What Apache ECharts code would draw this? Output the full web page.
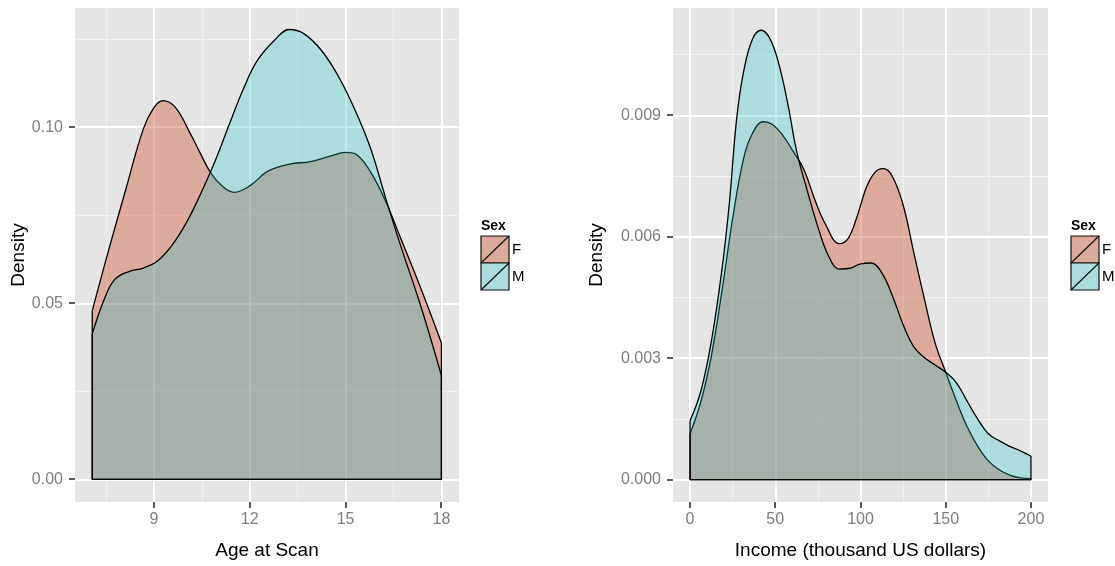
<!DOCTYPE html>
<html>
<head>
<meta charset="utf-8">
<title>Density by Sex</title>
<script src="https://cdn.jsdelivr.net/npm/echarts@6/dist/echarts.min.js"></script>
<style>
  html, body { margin: 0; padding: 0; background: #fff; }
  #chart { width: 1115px; height: 566px; }
</style>
</head>
<body>
<div id="chart"></div>
<script>
// age at scan, density by sex
const ageFx = [7.07, 7.55, 8.11, 8.67, 9.00, 9.28, 9.67, 10.12, 10.45, 10.78, 11.12, 11.51, 12.01, 12.57, 13.24, 13.90, 14.46, 15.02, 15.36, 15.80, 16.25, 16.70, 17.36, 18.00]
const ageFy = [0.0479, 0.0640, 0.0820, 0.0995, 0.1055, 0.1075, 0.1056, 0.0985, 0.0926, 0.0870, 0.0834, 0.0815, 0.0834, 0.0875, 0.0895, 0.0902, 0.0916, 0.0928, 0.0921, 0.0870, 0.0790, 0.0690, 0.0541, 0.0387]
const ageMx = [7.07, 7.44, 7.77, 8.22, 8.67, 9.11, 9.56, 10.00, 10.45, 10.90, 11.34, 11.79, 12.23, 12.79, 13.24, 13.68, 14.24, 14.80, 15.36, 15.80, 16.25, 16.70, 17.36, 18.00]
const ageMy = [0.0413, 0.0510, 0.0567, 0.0590, 0.0600, 0.0620, 0.0664, 0.0726, 0.0808, 0.0900, 0.1003, 0.1106, 0.1188, 0.1248, 0.1277, 0.1266, 0.1218, 0.1140, 0.1035, 0.0935, 0.0800, 0.0670, 0.0490, 0.0295]

// income (thousand US dollars), density by sex
const incFx = [0, 6.45, 12.7, 18.9, 25.2, 31.4, 36.6, 42.9, 48.1, 54.3, 60.6, 66.8, 73.0, 79.3, 87.6, 92.8, 98.0, 104.3, 110.5, 113.6, 118.8, 125.1, 131.3, 137.6, 143.8, 150.0, 156.3, 162.5, 168.8, 175.0, 181.3, 187.5, 193.8, 200.0]
const incFy = [0.00113, 0.00194, 0.0031, 0.00471, 0.0065, 0.00793, 0.00855, 0.00884, 0.00878, 0.00851, 0.0081, 0.00766, 0.00694, 0.00632, 0.00583, 0.00596, 0.0065, 0.0073, 0.00766, 0.00768, 0.00748, 0.00677, 0.0056, 0.00444, 0.00337, 0.00265, 0.00194, 0.00131, 0.00082, 0.00046, 0.00024, 0.00011, 0.00004, 0.00002]
const incMx = [0, 6.45, 12.7, 18.9, 23.1, 27.3, 31.4, 36.6, 41.8, 47.0, 52.2, 57.4, 62.6, 68.9, 75.1, 81.4, 87.6, 93.9, 100.1, 106.3, 112.6, 118.8, 125.1, 131.3, 137.6, 143.8, 150.0, 156.3, 162.5, 168.8, 175.0, 181.3, 187.5, 193.8, 200.0]
const incMy = [0.00145, 0.0022, 0.00346, 0.00525, 0.00685, 0.0089, 0.01007, 0.01088, 0.0111, 0.01088, 0.01025, 0.00927, 0.0081, 0.00712, 0.00623, 0.00551, 0.0052, 0.00522, 0.00533, 0.00535, 0.00510, 0.00453, 0.00382, 0.00328, 0.00301, 0.00283, 0.00265, 0.00239, 0.00194, 0.00149, 0.00113, 0.00096, 0.00082, 0.00071, 0.00058]

// ticks and grid lines
const ageTicks = [9, 12, 15, 18]
const ageMinor = [7.5, 10.5, 13.5, 16.5]
const ageDensTicks = [0, 0.05, 0.10]
const ageDensMinor = [0.025, 0.075, 0.125]
const incTicks = [0, 50, 100, 150, 200]
const incMinor = [25, 75, 125, 175]
const incDensTicks = [0, 0.003, 0.006, 0.009]
const incDensMinor = [0.0015, 0.0045, 0.0075, 0.0105]

// axis ranges [xmin, xmax, ymin, ymax] per panel
const ageRange = [6.53, 18.55, -0.0064, 0.1338]
const incRange = [-10, 210, -0.000555, 0.01165]

// panel boxes
const grids = [
  { left: 75, top: 8, width: 384, height: 494 },
  { left: 673, top: 8, width: 375, height: 494 },
]

const sexes = ['F', 'M']
const fills = ['rgba(209,84,52,0.4)', 'rgba(20,195,198,0.27)']

const FONT = '"Liberation Sans", Arial, Helvetica, sans-serif'
const TICK_GREY = '#5A5A5A'
const TICK_LEN = 6

const zip = (xs, ys) => xs.map((x, i) => [x, ys[i]])

function xAxisFor(i, range, ticks, name) {
  return {
    gridIndex: i, type: 'value', min: range[0], max: range[1],
    name, nameLocation: 'middle', nameGap: 39,
    nameTextStyle: { color: '#000', fontSize: 19, fontFamily: FONT },
    axisLine: { show: false, onZero: false },
    axisTick: { show: false },
    axisLabel: { customValues: ticks, margin: 10, color: '#7F7F7F', fontSize: 16, fontFamily: FONT },
    splitLine: { show: false },
  }
}

function yAxisFor(i, range, ticks, digits, gap) {
  return {
    gridIndex: i, type: 'value', min: range[2], max: range[3],
    name: 'Density', nameLocation: 'middle', nameGap: gap,
    nameTextStyle: { color: '#000', fontSize: 19, fontFamily: FONT },
    axisLine: { show: false, onZero: false },
    axisTick: { show: false },
    axisLabel: {
      customValues: ticks, margin: 12, color: '#7F7F7F', fontSize: 16, fontFamily: FONT,
      formatter: v => Number(v).toFixed(digits),
    },
    splitLine: { show: false },
  }
}

// background grid lines drawn as mark lines, under the areas
function gridLines(i, xTicks, xMinor, yTicks, yMinor) {
  const minor = { color: '#F3F3F3', width: 0.9, type: 'solid' }
  const major = { color: '#FFFFFF', width: 1.8, type: 'solid' }
  return {
    type: 'line', xAxisIndex: i, yAxisIndex: i, data: [], silent: true, z: 1,
    markLine: {
      z: 1, precision: 6,
      silent: true, symbol: 'none', animation: false, label: { show: false },
      emphasis: { disabled: true },
      data: [
        ...xMinor.map(v => ({ xAxis: v, lineStyle: minor })),
        ...yMinor.map(v => ({ yAxis: v, lineStyle: minor })),
        ...xTicks.map(v => ({ xAxis: v, lineStyle: major })),
        ...yTicks.map(v => ({ yAxis: v, lineStyle: major })),
      ],
    },
  }
}

function densityArea(i, xs, ys, k) {
  return {
    type: 'line', name: sexes[k], xAxisIndex: i, yAxisIndex: i,
    data: zip(xs, ys), smooth: 0.4, symbol: 'none',
    lineStyle: { color: '#000', width: 1.3 },
    areaStyle: { color: fills[k], opacity: 1 },
    z: 2 + k,
  }
}

// end edges and baseline of the filled density
function densityEdges(i, xs, ys) {
  const n = xs.length - 1
  return {
    type: 'line', xAxisIndex: i, yAxisIndex: i, symbol: 'none', silent: true,
    data: [[xs[0], ys[0]], [xs[0], 0], [xs[n], 0], [xs[n], ys[n]]],
    lineStyle: { color: '#000', width: 1.3 }, z: 5,
  }
}

function legendAt(x) {
  const w = 28, h = 27
  const children = [{
    type: 'text', x: 0, y: -17,
    style: { text: 'Sex', font: 'bold 14px ' + FONT, fill: '#000', verticalAlign: 'top' },
  }]
  sexes.forEach((s, k) => {
    children.push(
      { type: 'rect', shape: { x: 0, y: k * h, width: w, height: h }, style: { fill: '#E5E5E5' } },
      { type: 'rect', shape: { x: 0, y: k * h, width: w, height: h }, style: { fill: fills[k], stroke: '#111', lineWidth: 1.2 } },
      { type: 'line', shape: { x1: 0, y1: (k + 1) * h, x2: w, y2: k * h }, style: { stroke: '#111', lineWidth: 1.2 } },
      { type: 'text', x: w + 3, y: k * h + h / 2, style: { text: s, font: '15px ' + FONT, fill: '#000', verticalAlign: 'middle' } },
    )
  })
  return { type: 'group', x, y: 236, children }
}

// outside tick marks along the panel edges (axis decoration only)
function tickMarks(i, range, xTicks, yTicks) {
  const g = grids[i]
  const bottom = g.top + g.height
  const children = []
  const style = () => ({ fill: TICK_GREY })
  xTicks.forEach(v => {
    const px = Math.round(g.left + (v - range[0]) / (range[1] - range[0]) * g.width)
    children.push({ type: 'rect', shape: { x: px - 1, y: bottom, width: 2, height: TICK_LEN }, style: style() })
  })
  yTicks.forEach(v => {
    const py = Math.round(bottom - (v - range[2]) / (range[3] - range[2]) * g.height)
    children.push({ type: 'rect', shape: { x: g.left - TICK_LEN, y: py - 1, width: TICK_LEN, height: 2 }, style: style() })
  })
  return { type: 'group', x: 0, y: 0, z: 10, silent: true, children }
}

const chart = echarts.init(document.getElementById('chart'))
chart.setOption({
  animation: false,
  backgroundColor: '#fff',
  grid: grids.map(g => ({ ...g, show: true, backgroundColor: '#E5E5E5', borderWidth: 0 })),
  xAxis: [
    xAxisFor(0, ageRange, ageTicks, 'Age at Scan'),
    xAxisFor(1, incRange, incTicks, 'Income (thousand US dollars)'),
  ],
  yAxis: [
    yAxisFor(0, ageRange, ageDensTicks, 2, 46),
    yAxisFor(1, incRange, incDensTicks, 3, 67),
  ],
  series: [
    gridLines(0, ageTicks, ageMinor, ageDensTicks, ageDensMinor),
    gridLines(1, incTicks, incMinor, incDensTicks, incDensMinor),
    densityArea(0, ageFx, ageFy, 0),
    densityArea(0, ageMx, ageMy, 1),
    densityArea(1, incFx, incFy, 0),
    densityArea(1, incMx, incMy, 1),
    densityEdges(0, ageFx, ageFy),
    densityEdges(0, ageMx, ageMy),
    densityEdges(1, incFx, incFy),
    densityEdges(1, incMx, incMy),
  ],
  graphic: [
    legendAt(481), legendAt(1071),
    tickMarks(0, ageRange, ageTicks, ageDensTicks),
    tickMarks(1, incRange, incTicks, incDensTicks),
  ],
})
</script>
</body>
</html>
